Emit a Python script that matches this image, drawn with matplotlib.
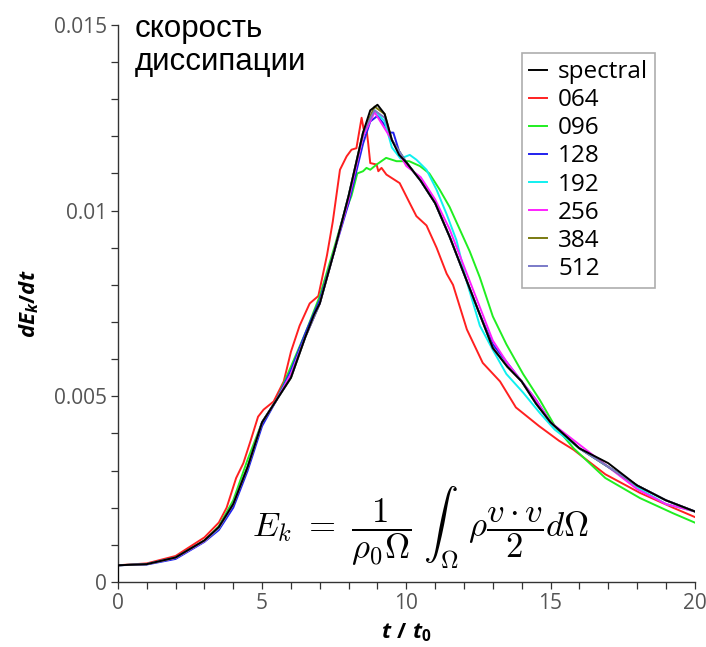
import matplotlib
matplotlib.use("Agg")
import matplotlib.pyplot as plt
from matplotlib.ticker import MultipleLocator, FuncFormatter

# dissipation rate of kinetic energy, dE_k/dt vs t/t0
t_ref = [0, 0, 1, 2, 3, 3.5, 4, 4.5, 5, 5.5, 6, 6.5, 6.8, 7, 7.5, 8, 8.5, 8.75,
         9, 9.25, 9.5, 9.75, 10, 10.5, 11, 11.5, 12, 12.5, 13, 13.5, 14, 14.5,
         15, 16, 17, 18, 19, 20]
spectral = [0, 0.00045, 0.00048, 0.00066, 0.00112, 0.00148, 0.0021, 0.0031,
            0.0043, 0.0049, 0.0055, 0.0066, 0.0072, 0.0075, 0.0089, 0.0104,
            0.0121, 0.0127, 0.01285, 0.0126, 0.0119, 0.0115, 0.0113, 0.0108,
            0.0102, 0.0093, 0.0083, 0.0073, 0.0063, 0.0058, 0.0054, 0.0048,
            0.0043, 0.0036, 0.0032, 0.0026, 0.0022, 0.0019]

t_064 = [0, 0, 1, 2, 3, 3.5, 3.77, 4.1, 4.35, 4.6, 4.86, 5.05, 5.4, 5.75, 6.0,
         6.3, 6.65, 6.95, 7.25, 7.45, 7.7, 7.93, 8.1, 8.27, 8.45, 8.52, 8.62,
         8.68, 8.75, 8.97, 9.03, 9.14, 9.31, 9.77, 10.12, 10.35, 10.7, 11.05,
         11.4, 11.62, 12.1, 12.65, 13.25, 13.8, 14.6, 15.3, 15.8, 16.9, 18.1,
         19.25, 20]
v_064 = [0, 0.00045, 0.0005, 0.0007, 0.0012, 0.0016, 0.002, 0.0028, 0.0032,
         0.0038, 0.00445, 0.00464, 0.00486, 0.0054, 0.0062, 0.0069, 0.0075,
         0.0077, 0.0088, 0.0097, 0.0111, 0.01146, 0.01164, 0.01168, 0.0125,
         0.0122, 0.0122, 0.0118, 0.01128, 0.01124, 0.01106, 0.01115, 0.01097,
         0.01074, 0.0102, 0.00985, 0.0096, 0.009, 0.0083, 0.008, 0.0068,
         0.0059, 0.0054, 0.0047, 0.0042, 0.0038, 0.00356, 0.0029, 0.0024,
         0.002, 0.00175]

t_096 = [0, 0, 1, 2, 3, 3.5, 4, 4.5, 5, 5.5, 6, 6.5, 7, 7.5, 7.8, 8.1, 8.3,
         8.5, 8.62, 8.75, 8.97, 9.3, 9.66, 10.1, 10.47, 10.8, 11.16, 11.5,
         11.85, 12.2, 12.55, 13.0, 13.47, 14.05, 14.63, 15.15, 15.8, 16.9,
         18.1, 19.25, 20]
v_096 = [0, 0.00045, 0.00048, 0.00064, 0.0011, 0.0015, 0.0022, 0.0033, 0.0043,
         0.0049, 0.0058, 0.0067, 0.0077, 0.009, 0.0098, 0.0104, 0.011, 0.01106,
         0.01115, 0.0111, 0.01124, 0.01142, 0.01133, 0.01133, 0.0112, 0.011,
         0.01056, 0.0101, 0.0095, 0.0089, 0.0082, 0.00715, 0.0064, 0.0056,
         0.0049, 0.0042, 0.0036, 0.0028, 0.00226, 0.00185, 0.0016]

t_128 = [0, 0, 1, 2, 3, 3.5, 4, 4.5, 5, 5.5, 6, 6.5, 7, 7.5, 8, 8.5, 8.75, 9,
         9.25, 9.4, 9.55, 9.75, 10, 10.5, 11, 11.5, 12, 12.5, 13, 13.5, 14,
         14.5, 15, 16, 17, 18, 19, 20]
v_128 = [0, 0.00045, 0.00047, 0.00062, 0.00108, 0.0014, 0.002, 0.003, 0.0042,
         0.0049, 0.0057, 0.0067, 0.0076, 0.0089, 0.0102, 0.0118, 0.0124,
         0.01255, 0.0123, 0.0121, 0.0121, 0.0116, 0.0113, 0.0108, 0.0102,
         0.0093, 0.0083, 0.0073, 0.0064, 0.0059, 0.0054, 0.0049, 0.0043,
         0.0036, 0.0031, 0.0026, 0.0022, 0.0019]

t_192 = [0, 0, 1, 2, 3, 3.5, 4, 4.5, 5, 5.5, 6, 6.5, 7, 7.5, 8, 8.5, 8.9, 9.25,
         9.5, 9.8, 10.12, 10.35, 10.7, 11.05, 11.4, 11.74, 12.09, 12.55, 13.0,
         13.47, 14.05, 14.63, 15.15, 16, 17, 18, 19, 20]
v_192 = [0, 0.00045, 0.00048, 0.00065, 0.0011, 0.00145, 0.0021, 0.0031,
         0.0043, 0.0049, 0.0056, 0.0066, 0.0075, 0.0089, 0.0104, 0.012, 0.0127,
         0.0124, 0.0117, 0.0114, 0.0115, 0.01137, 0.0111, 0.01056, 0.0099,
         0.0092, 0.0081, 0.0069, 0.00625, 0.0056, 0.0051, 0.00455, 0.0041,
         0.0036, 0.0031, 0.00255, 0.0021, 0.0019]

t_256 = [0, 0, 1, 2, 3, 3.5, 4, 4.5, 5, 5.5, 6, 6.5, 7, 7.5, 8, 8.5, 8.9, 9.5,
         10, 10.5, 11, 11.5, 12, 12.5, 13, 13.5, 14, 14.5, 15, 16, 17, 18, 19,
         20]
v_256 = [0, 0.00045, 0.00048, 0.00065, 0.0011, 0.00146, 0.0021, 0.0031,
         0.0043, 0.0049, 0.0056, 0.0066, 0.0075, 0.0089, 0.0103, 0.012,
         0.01265, 0.0119, 0.0112, 0.0109, 0.0103, 0.0095, 0.0085, 0.0075,
         0.0065, 0.0059, 0.0054, 0.0049, 0.0043, 0.0037, 0.0031, 0.0025,
         0.0021, 0.0019]

t_hi = [0, 0, 1, 2, 3, 3.5, 4, 4.5, 5, 5.5, 6, 6.5, 7, 7.5, 8, 8.5, 8.9, 9.25,
        9.5, 10, 10.5, 11, 11.5, 12, 12.5, 13, 13.5, 14, 14.5, 15, 16, 17, 18,
        19, 20]
v_384 = [0, 0.00045, 0.00048, 0.00066, 0.00112, 0.00147, 0.0021, 0.0031,
         0.0043, 0.0049, 0.0055, 0.0066, 0.0075, 0.0089, 0.0104, 0.0121,
         0.0128, 0.0126, 0.0119, 0.0113, 0.0108, 0.0102, 0.0093, 0.0083,
         0.0073, 0.0063, 0.0058, 0.0054, 0.0048, 0.0043, 0.0036, 0.0031,
         0.0026, 0.0022, 0.0019]
v_512 = [0, 0.00045, 0.00048, 0.00066, 0.00111, 0.00146, 0.0021, 0.0031,
         0.0043, 0.0049, 0.0055, 0.0066, 0.0075, 0.0089, 0.0104, 0.0121,
         0.0127, 0.0125, 0.0119, 0.0113, 0.0108, 0.0102, 0.0093, 0.0083,
         0.0073, 0.0063, 0.0058, 0.0054, 0.0048, 0.0043, 0.0036, 0.0031,
         0.0026, 0.0022, 0.0019]

series = [
    ("spectral", t_ref, spectral, "black"),
    ("064", t_064, v_064, "#ff2020"),
    ("096", t_096, v_096, "#20ee20"),
    ("128", t_128, v_128, "#2020ee"),
    ("192", t_192, v_192, "#10f0f0"),
    ("256", t_256, v_256, "#ff20ff"),
    ("384", t_hi, v_384, "#7a7a10"),
    ("512", t_hi, v_512, "#7a7ac8"),
]

plt.rcParams["font.family"] = ["Open Sans", "DejaVu Sans"]
plt.rcParams["mathtext.fontset"] = "custom"
plt.rcParams["mathtext.it"] = "Open Sans:bold:italic"
plt.rcParams["mathtext.rm"] = "Open Sans:bold"
plt.rcParams["mathtext.bf"] = "Open Sans:bold"

fig = plt.figure(figsize=(7.06, 6.47), dpi=100)
ax = fig.add_axes([0.167, 0.1005, 0.817, 0.861])

for name, t, v, c in series:
    z = 3 if name == "spectral" else 2
    ax.plot(t, v, color=c, lw=1.4, label=name, zorder=z)

ax.set_xlim(0, 20)
ax.set_ylim(0, 0.015)
ax.xaxis.set_major_locator(MultipleLocator(5))
ax.xaxis.set_minor_locator(MultipleLocator(1))
ax.yaxis.set_major_locator(MultipleLocator(0.005))
ax.yaxis.set_minor_locator(MultipleLocator(0.001))
ax.xaxis.set_major_formatter(FuncFormatter(lambda v, p: "%g" % v))
ax.yaxis.set_major_formatter(FuncFormatter(lambda v, p: "%g" % v))
for s in ("top", "right"):
    ax.spines[s].set_visible(False)
for s in ("left", "bottom"):
    ax.spines[s].set_color("#333333")
    ax.spines[s].set_linewidth(1.0)
ax.tick_params(which="both", direction="out", length=5, width=0.9,
               color="#333333", labelcolor="#555555", labelsize=15, pad=3)

ax.set_xlabel(r"$t\ /\ t_0$", fontsize=16, labelpad=5)
ax.set_ylabel(r"$dE_k/dt$", fontsize=16, labelpad=9)

leg = ax.legend(loc="upper right", bbox_to_anchor=(0.932, 0.95),
                fontsize=17.5, frameon=True, fancybox=False,
                handlelength=0.75, handletextpad=0.45, labelspacing=0.17,
                borderpad=0.3, borderaxespad=0)
leg.get_frame().set_edgecolor("#999999")
leg.get_frame().set_linewidth(1.2)

fig.text(0.191, 0.978, "скорость\nдиссипации", fontsize=22.5,
         family="Liberation Sans", va="top", ha="left", linespacing=1.1)

ax.text(0.233, 0.097,
        r"$E_k\ =\ \dfrac{1}{\rho_0 \Omega}\ \int_{\Omega}\ \rho \dfrac{v \cdot v}{2} d\Omega$",
        transform=ax.transAxes, fontsize=25, math_fontfamily="cm",
        va="center", ha="left")

fig.savefig("out.png", dpi=100)
